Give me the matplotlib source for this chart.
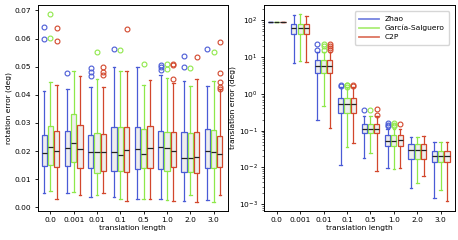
import matplotlib
matplotlib.use("Agg")
import matplotlib.pyplot as plt
from matplotlib.lines import Line2D

lengths = ["0.0", "0.001", "0.01", "0.1", "0.5", "1.0", "2.0", "3.0"]
methods = ["Zhao", "García-Salguero", "C2P"]
colors = ["#4a5bd6", "#8fe84a", "#d2472c"]

# rotation error: [whislo, q1, med, q3, whishi] per length, per method
rot_zhao = [[0.0050, 0.0147, 0.0192, 0.0256, 0.0412], [0.0050, 0.0147, 0.0210, 0.0273, 0.0420],
            [0.0036, 0.0139, 0.0198, 0.0257, 0.0429], [0.0038, 0.0130, 0.0198, 0.0287, 0.0500],
            [0.0030, 0.0135, 0.0209, 0.0284, 0.0500], [0.0030, 0.0135, 0.0214, 0.0272, 0.0471],
            [0.0023, 0.0125, 0.0176, 0.0269, 0.0450], [0.0026, 0.0141, 0.0202, 0.0278, 0.0432]]
rot_garcia = [[0.0058, 0.0151, 0.0216, 0.0289, 0.0447], [0.0056, 0.0160, 0.0230, 0.0331, 0.0486],
              [0.0044, 0.0121, 0.0195, 0.0266, 0.0457], [0.0030, 0.0130, 0.0186, 0.0284, 0.0486],
              [0.0028, 0.0139, 0.0190, 0.0278, 0.0435], [0.0026, 0.0130, 0.0210, 0.0269, 0.0459],
              [0.0042, 0.0125, 0.0176, 0.0263, 0.0432], [0.0020, 0.0139, 0.0197, 0.0275, 0.0450]]
rot_c2p = [[0.0031, 0.0145, 0.0199, 0.0273, 0.0435], [0.0044, 0.0141, 0.0206, 0.0293, 0.0467],
           [0.0052, 0.0130, 0.0196, 0.0260, 0.0427], [0.0023, 0.0125, 0.0204, 0.0284, 0.0486],
           [0.0028, 0.0139, 0.0210, 0.0290, 0.0452], [0.0023, 0.0145, 0.0202, 0.0269, 0.0441],
           [0.0018, 0.0121, 0.0180, 0.0267, 0.0457], [0.0044, 0.0142, 0.0189, 0.0255, 0.0420]]
rot_fliers_zhao = [[0.0642, 0.0599], [0.0477], [0.0495, 0.0482, 0.0468], [0.0563], [],
                   [0.0506, 0.0499, 0.0490], [0.0539, 0.0500], [0.0562]]
rot_fliers_garcia = [[0.0687, 0.0601], [], [0.0554], [0.0558], [0.0509],
                     [0.0510, 0.0491], [0.0497], [0.0552]]
rot_fliers_c2p = [[0.0639, 0.0591], [], [0.0500, 0.0481, 0.0472], [0.0633], [],
                  [0.0510, 0.0506, 0.0458], [0.0533], [0.0587, 0.0479, 0.0445, 0.0429, 0.0421]]

# translation error
tr_zhao = [[88, 88, 88, 88, 88], [6.9, 42, 62, 81, 143], [0.195, 3.8, 5.6, 8.5, 13.5],
           [0.0114, 0.31, 0.53, 0.79, 1.5], [0.0176, 0.084, 0.109, 0.148, 0.25],
           [0.0095, 0.038, 0.053, 0.076, 0.11], [0.0027, 0.0166, 0.0297, 0.0434, 0.069],
           [0.0015, 0.0143, 0.0204, 0.0284, 0.050]]
tr_garcia = [[88, 88, 88, 88, 88], [7.9, 42, 62, 81, 152], [0.47, 3.8, 5.6, 8.5, 13.5],
             [0.0366, 0.31, 0.53, 0.79, 1.5], [0.025, 0.084, 0.109, 0.148, 0.25],
             [0.009, 0.038, 0.053, 0.076, 0.11], [0.0038, 0.0166, 0.0297, 0.0434, 0.069],
             [0.0024, 0.0143, 0.0204, 0.0284, 0.048]]
tr_c2p = [[88, 88, 88, 88, 88], [7.6, 42, 62, 81, 134], [0.12, 3.8, 5.6, 8.5, 13.5],
          [0.047, 0.31, 0.53, 0.79, 1.5], [0.0081, 0.084, 0.109, 0.148, 0.25],
          [0.0094, 0.038, 0.055, 0.078, 0.11], [0.0058, 0.0166, 0.0297, 0.0434, 0.072],
          [0.0012, 0.0143, 0.0204, 0.0284, 0.048]]
tr_fliers_zhao = [[], [], [22.6, 16.0], [1.8, 1.6], [0.37], [0.16, 0.14, 0.13], [], []]
tr_fliers_garcia = [[], [], [22.6, 19.5, 16.0], [1.8, 1.7, 1.55], [0.37], [0.16, 0.14, 0.13], [], []]
tr_fliers_c2p = [[], [], [22.6, 20.0, 17.5, 16.0], [1.8, 1.6], [0.38, 0.26], [0.15], [], []]

FS = 5.4


def stats(rows, fliers):
    out = []
    for r, f in zip(rows, fliers):
        out.append(dict(whislo=r[0], q1=r[1], med=r[2], q3=r[3], whishi=r[4], fliers=f))
    return out


def draw(ax, series, fliers):
    offsets = [-0.27, 0.0, 0.27]
    for k in range(3):
        pos = [i + offsets[k] for i in range(len(lengths))]
        c = colors[k]
        ax.bxp(stats(series[k], fliers[k]), positions=pos, widths=0.22,
               patch_artist=True, manage_ticks=False,
               boxprops=dict(facecolor=(0.86, 0.86, 0.86, 0.45), edgecolor=c, linewidth=0.9),
               whiskerprops=dict(color=c, linewidth=0.9),
               capprops=dict(color=c, linewidth=0.9),
               medianprops=dict(color="#222222", linewidth=0.9),
               flierprops=dict(marker="o", markerfacecolor="none", markeredgecolor=c,
                               markersize=3.5, markeredgewidth=0.8))
    ax.set_xticks(range(len(lengths)))
    ax.set_xticklabels(lengths)
    ax.set_xlim(-0.55, 7.6)
    ax.set_xlabel("translation length", fontsize=FS, labelpad=1.5)
    ax.tick_params(labelsize=FS, length=2.5, width=0.6, pad=2)
    ax.tick_params(which="minor", length=1.5, width=0.4)
    for s in ax.spines.values():
        s.set_linewidth(0.7)


plt.rcParams["font.family"] = "DejaVu Sans"
fig = plt.figure(figsize=(4.58, 2.4), dpi=100)
ax1 = fig.add_axes([0.082, 0.121, 0.415, 0.86])
ax2 = fig.add_axes([0.576, 0.121, 0.417, 0.86])

draw(ax1, [rot_zhao, rot_garcia, rot_c2p], [rot_fliers_zhao, rot_fliers_garcia, rot_fliers_c2p])
ax1.set_ylim(-0.0013, 0.0721)
ax1.set_yticks([0.0, 0.01, 0.02, 0.03, 0.04, 0.05, 0.06, 0.07])
ax1.set_yticklabels(["0.00", "0.01", "0.02", "0.03", "0.04", "0.05", "0.06", "0.07"])
ax1.set_ylabel("rotation error (deg)", fontsize=FS, labelpad=2)

ax2.set_yscale("log")
draw(ax2, [tr_zhao, tr_garcia, tr_c2p], [tr_fliers_zhao, tr_fliers_garcia, tr_fliers_c2p])
ax2.set_ylim(6.5e-4, 270)
ax2.set_ylabel("translation error (deg)", fontsize=FS, labelpad=2)

handles = [Line2D([0], [0], color=c, lw=1.3, alpha=0.75) for c in colors]
ax2.legend(handles, methods, loc="upper right", fontsize=FS, handlelength=2.6,
           borderpad=0.6, labelspacing=0.35, handletextpad=0.8, frameon=True,
           bbox_to_anchor=(0.99, 0.985))

fig.savefig("out.png", dpi=100)
